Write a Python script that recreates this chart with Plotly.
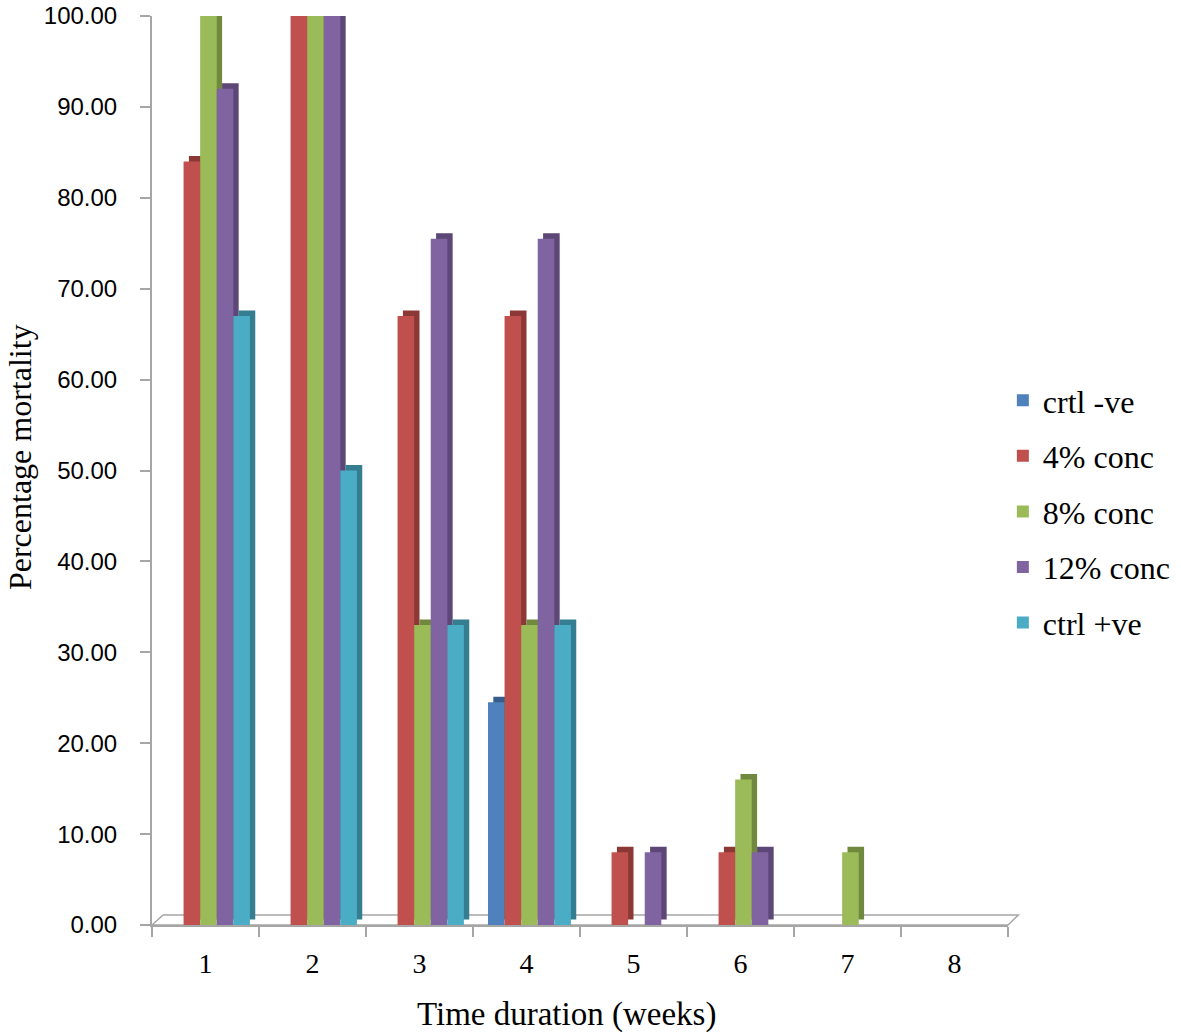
import plotly.graph_objects as go

weeks = ["1", "2", "3", "4", "5", "6", "7", "8"]
series_names = ["crtl -ve", "4% conc", "8% conc", "12% conc", "ctrl +ve"]
crtl_neg = [0, 0, 0, 24.5, 0, 0, 0, 0]
conc4 = [84, 100, 67, 67, 8, 8, 0, 0]
conc8 = [100, 100, 33, 33, 0, 16, 8, 0]
conc12 = [92, 100, 75.5, 75.5, 8, 8, 0, 0]
ctrl_pos = [67, 50, 33, 33, 0, 0, 0, 0]
y_ticks = [0, 10, 20, 30, 40, 50, 60, 70, 80, 90, 100]

series = [crtl_neg, conc4, conc8, conc12, ctrl_pos]
front_colors = ["#4F81BD", "#C0504D", "#9BBB59", "#8064A2", "#4BACC6"]
side_colors = ["#385D8A", "#8C3836", "#71893F", "#5C4776", "#357D91"]

bar_w = 0.155
start = -0.36
depth_x = 0.05
depth_y = 0.6

serif = "Liberation Serif, Times New Roman, serif"
sans = "Liberation Sans, Arial, sans-serif"

fig = go.Figure()
# side/top faces (pseudo-3D)
for i, vals in enumerate(series):
    fig.add_trace(go.Bar(
        x=weeks, y=vals, base=depth_y, width=bar_w,
        offset=start + i * bar_w + depth_x,
        marker=dict(color=side_colors[i], line=dict(width=0)),
        showlegend=False, hoverinfo="skip",
    ))
# front faces
for i, vals in enumerate(series):
    fig.add_trace(go.Bar(
        x=weeks, y=vals, name=series_names[i], width=bar_w,
        offset=start + i * bar_w,
        marker=dict(color=front_colors[i], line=dict(width=0)),
        legendgroup=series_names[i],
    ))

# floor
fig.add_shape(type="path", xref="paper", yref="paper",
              path="M 0 0 L 0.013 0.011 L 1.012 0.011 L 1.0 0 Z",
              line=dict(color="#A6A6A6", width=1.5), fillcolor="rgba(0,0,0,0)",
              layer="below")

fig.add_annotation(text="Time duration (weeks)", xref="paper", yref="paper",
                   x=0.484, y=-0.098, xanchor="center", yanchor="middle",
                   showarrow=False, font=dict(size=33, family=serif, color="black"))
fig.add_annotation(text="Percentage mortality", xref="paper", yref="paper",
                   x=-0.154, y=0.515, xanchor="center", yanchor="middle",
                   textangle=-90, showarrow=False,
                   font=dict(size=32, family=serif, color="black"))

fig.update_layout(
    barmode="overlay",
    width=1181, height=1034,
    margin=dict(l=152, r=173, t=16, b=109, autoexpand=False),
    paper_bgcolor="white", plot_bgcolor="white",
    font=dict(family=serif, color="black"),
    legend=dict(
        x=0.994, y=0.455, xanchor="left", yanchor="middle",
        font=dict(size=32, family=serif),
        tracegroupgap=11, bgcolor="rgba(0,0,0,0)",
    ),
    showlegend=True,
)
fig.update_xaxes(
    type="category", range=[-0.5, 7.5], automargin=False,
    showline=True, linecolor="#A6A6A6", linewidth=2,
    ticks="outside", tickson="boundaries", ticklen=10, tickcolor="#A6A6A6", tickwidth=2,
    tickfont=dict(size=28, family=serif),
    ticklabelstandoff=12,
    showgrid=False, zeroline=False,
)
fig.update_yaxes(
    range=[0, 100], tickvals=y_ticks, tickformat=".2f", automargin=False,
    showline=True, linecolor="#A6A6A6", linewidth=2,
    ticks="outside", ticklen=10, tickcolor="#A6A6A6", tickwidth=2,
    tickfont=dict(size=24, family=sans),
    ticklabelstandoff=18, ticklabeloverflow="allow",
    showgrid=False, zeroline=False,
)

fig.write_html("out.html", config={"displayModeBar": False},
               post_script="document.body.style.margin='0';document.body.style.overflow='hidden';")
